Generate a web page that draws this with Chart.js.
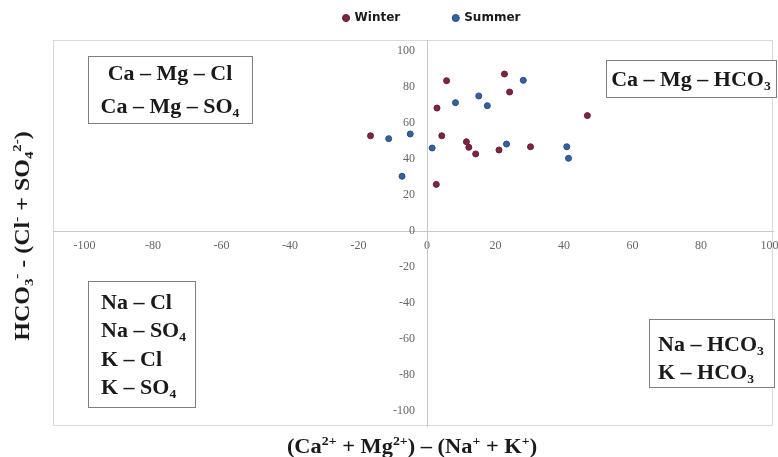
<!DOCTYPE html>
<html>
<head>
<meta charset="utf-8">
<script src="https://cdn.jsdelivr.net/npm/chart.js@4.4.0/dist/chart.umd.min.js"></script>
<style>
  html, body { margin: 0; padding: 0; background: #fff; }
  #wrap { width: 778px; height: 457px; }
</style>
</head>
<body>
<div id="wrap"><canvas id="chart"></canvas></div>
<script>
// data
const seriesNames = ['Winter', 'Summer'];
const winterX = [-16.5, 5.7, 2.9, 4.3, 11.5, 12.2, 14.2, 21.0, 22.6, 24.1, 30.2, 2.7, 46.8];
const winterY = [52.9, 83.5, 68.3, 52.9, 49.6, 46.5, 42.8, 45.0, 87.2, 77.2, 46.8, 25.9, 64.1];
const summerX = [-11.2, -4.9, 1.5, -7.3, 8.3, 15.1, 17.6, 23.2, 28.1, 40.8, 41.3];
const summerY = [51.3, 53.9, 46.1, 30.4, 71.3, 75.0, 69.6, 48.3, 83.7, 46.8, 40.4];
const tickValues = [-100, -80, -60, -40, -20, 0, 20, 40, 60, 80, 100];
const xTitle = '(Ca^{2+} + Mg^{2+}) – (Na^{+} + K^{+})';
const yTitle = 'HCO_{3}^{-} - (Cl^{-} + SO_{4}^{2-})';

const serif = '"Liberation Serif", "Times New Roman", serif';

// draw text with _{sub} and ^{sup} pieces, sx stretches along the text
function drawRich(ctx, str, x, y, size, align, sx) {
  const parts = [];
  const re = /(_|\^)\{([^}]*)\}/g;
  let last = 0, m;
  while ((m = re.exec(str))) {
    if (m.index > last) parts.push([str.slice(last, m.index), '']);
    parts.push([m[2], m[1] === '_' ? 'sub' : 'sup']);
    last = re.lastIndex;
  }
  if (last < str.length) parts.push([str.slice(last), '']);
  const small = size * 0.62;
  const widths = parts.map(p => {
    ctx.font = 'bold ' + (p[1] ? small : size) + 'px ' + serif;
    return ctx.measureText(p[0]).width;
  });
  const total = widths.reduce((a, b) => a + b, 0);
  ctx.save();
  ctx.translate(x, y + size * 0.33);
  ctx.scale(sx || 1, 1);
  let cx = align === 'center' ? -total / 2 : 0;
  parts.forEach((p, i) => {
    ctx.font = 'bold ' + (p[1] ? small : size) + 'px ' + serif;
    let dy = 0;
    if (p[1] === 'sub') dy = size * 0.2;
    if (p[1] === 'sup') dy = -size * 0.38;
    ctx.fillText(p[0], cx, dy);
    cx += widths[i];
  });
  ctx.restore();
}

const boxes = [
  { x: 88, y: 56, w: 164, h: 67, align: 'center', lines: ['Ca – Mg – Cl', 'Ca – Mg – SO_{4}'], ys: [73, 106] },
  { x: 606, y: 60, w: 170, h: 37, align: 'center', lines: ['Ca – Mg – HCO_{3}'], ys: [79] },
  { x: 88, y: 281, w: 107, h: 126, align: 'left', tx: 101, lines: ['Na – Cl', 'Na – SO_{4}', 'K – Cl', 'K – SO_{4}'], ys: [302, 330, 359, 387] },
  { x: 649, y: 319, w: 125, h: 68, align: 'left', tx: 658, lines: ['Na – HCO_{3}', 'K – HCO_{3}'], ys: [344, 372] }
];

const noPad = () => ({ left: 0, right: 0, top: 0, bottom: 0 });

const extras = {
  id: 'extras',
  beforeLayout(chart) {
    // the axes cross in the middle, so their edge labels need no room
    Object.values(chart.scales).forEach(s => { s.getPadding = noPad; });
  },
  afterLayout(chart) {
    // move the legend up into the top margin and a little to the right
    const lg = chart.legend;
    lg.left += 17; lg.right += 17;
    lg.top -= 41;
  },
  beforeDraw(chart) {
    const { ctx, chartArea: a } = chart;
    ctx.save();
    ctx.strokeStyle = '#d9d9d9';
    ctx.lineWidth = 1;
    ctx.strokeRect(a.left + 0.5, a.top + 0.5, a.right - a.left - 1, a.bottom - a.top - 1);
    ctx.restore();
  },
  afterDraw(chart) {
    const ctx = chart.ctx;
    ctx.save();
    ctx.textAlign = 'left';
    ctx.textBaseline = 'alphabetic';
    boxes.forEach(b => {
      ctx.fillStyle = '#fff';
      ctx.fillRect(b.x, b.y, b.w, b.h);
      ctx.strokeStyle = '#808080';
      ctx.lineWidth = 1;
      ctx.strokeRect(b.x + 0.5, b.y + 0.5, b.w, b.h);
      ctx.fillStyle = '#1a1a1a';
      b.lines.forEach((t, i) => {
        if (b.align === 'center') drawRich(ctx, t, b.x + b.w / 2, b.ys[i], 20, 'center', 1.1);
        else drawRich(ctx, t, b.tx, b.ys[i], 20, 'left', 1.1);
      });
    });
    ctx.fillStyle = '#1a1a1a';
    drawRich(ctx, xTitle, 412, 446, 20, 'center', 1.12);
    ctx.translate(22, 236);
    ctx.rotate(-Math.PI / 2);
    drawRich(ctx, yTitle, 0, 0, 20, 'center', 1.2);
    ctx.restore();
  }
};

const tickFont = { family: serif, size: 12 };

new Chart(document.getElementById('chart'), {
  type: 'scatter',
  data: {
    datasets: [
      {
        label: seriesNames[0],
        data: winterX.map((x, i) => ({ x: x, y: winterY[i] })),
        backgroundColor: '#7e2540',
        borderColor: '#6a1c35',
        borderWidth: 1,
        pointRadius: 3
      },
      {
        label: seriesNames[1],
        data: summerX.map((x, i) => ({ x: x, y: summerY[i] })),
        backgroundColor: '#3462a0',
        borderColor: '#274d85',
        borderWidth: 1,
        pointRadius: 3
      }
    ]
  },
  options: {
    responsive: true,
    maintainAspectRatio: false,
    animation: false,
    layout: { padding: { top: 0, left: 53, right: 1, bottom: 31 } },
    plugins: {
      legend: {
        position: 'top',
        maxHeight: 40,
        labels: {
          usePointStyle: true,
          pointStyle: 'circle',
          boxWidth: 5,
          boxHeight: 5,
          padding: 53,
          color: '#1a1a1a',
          font: { family: '"DejaVu Sans", sans-serif', size: 12, weight: 'bold' }
        }
      },
      tooltip: { enabled: false }
    },
    scales: {
      x: {
        type: 'linear',
        position: { y: 0 },
        min: -109.2,
        max: 101,
        afterBuildTicks: s => { s.ticks = tickValues.map(v => ({ value: v })); },
        grid: { display: false, drawTicks: true, tickLength: 4 },
        border: { display: true, color: '#c8c8c8' },
        ticks: { color: '#666666', font: tickFont, padding: 4, maxRotation: 0, autoSkip: false }
      },
      y: {
        type: 'linear',
        position: { x: 0 },
        min: -108.3,
        max: 106.1,
        afterBuildTicks: s => { s.ticks = tickValues.map(v => ({ value: v })); },
        grid: { display: false },
        border: { display: true, color: '#c8c8c8' },
        ticks: {
          color: '#666666', font: tickFont, autoSkip: false,
          callback: v => v + '    '
        }
      }
    }
  },
  plugins: [extras]
});
</script>
</body>
</html>
